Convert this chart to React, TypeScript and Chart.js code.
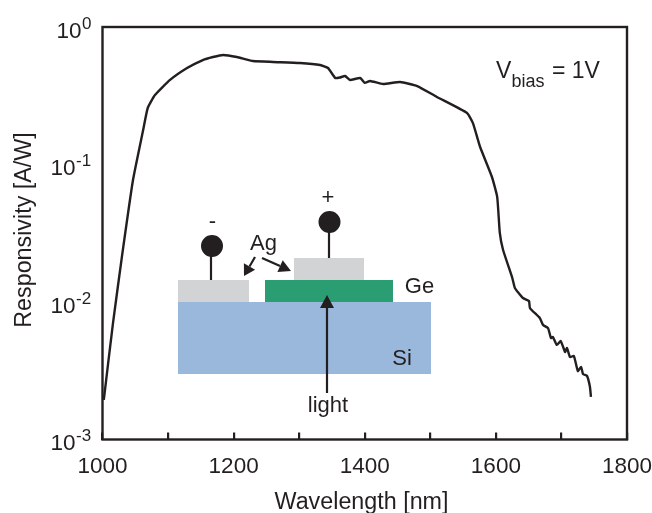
import { useEffect, useRef } from "react";
import { Chart, registerables } from "chart.js";

Chart.register(...registerables);

const FONT = '"Liberation Sans", Arial, sans-serif';
const INK = "#231f20";

const wavelengthNm = [
  1002, 1016, 1030, 1046.5, 1062, 1069, 1080, 1103, 1129, 1153, 1168.5, 1184, 1205, 1229.5, 1260, 1301, 1332,
  1344, 1355, 1362, 1370, 1377.5, 1393, 1400, 1408, 1428, 1454, 1480, 1510, 1556, 1565, 1576, 1594, 1602, 1606,
  1611, 1625, 1629, 1641, 1650.5, 1652, 1667, 1672, 1679.5, 1684, 1687, 1693, 1699, 1705.5, 1708.5, 1713, 1719,
  1725, 1730, 1733, 1739, 1743.5, 1745,
];
const responsivity = [
  0.00194, 0.00703, 0.022, 0.0771, 0.178, 0.2576, 0.32, 0.412, 0.503, 0.575, 0.605, 0.626, 0.605, 0.566, 0.557,
  0.547, 0.529, 0.503, 0.426, 0.429, 0.44, 0.412, 0.426, 0.392, 0.405, 0.385, 0.398, 0.372, 0.31, 0.237, 0.2,
  0.134, 0.0811, 0.0581, 0.0318, 0.0239, 0.015, 0.01265, 0.0107, 0.01017, 0.00904, 0.00765, 0.00681, 0.00647,
  0.00547, 0.00557, 0.00487, 0.0052, 0.00433, 0.00463, 0.00398, 0.00405, 0.00315, 0.00337, 0.00299, 0.0029,
  0.00241, 0.00204,
];
const yTickValues = [1, 0.1, 0.01, 0.001];
const yTickExponents = ["0", "-1", "-2", "-3"];
const yTickTextRight = [82, 76, 76, 76];

function text(ctx: CanvasRenderingContext2D, s: string, x: number, y: number, size: number, align: CanvasTextAlign = "left") {
  ctx.font = `${size}px ${FONT}`;
  ctx.textAlign = align;
  ctx.textBaseline = "alphabetic";
  ctx.fillStyle = INK;
  ctx.fillText(s, x, y);
}

function arrow(ctx: CanvasRenderingContext2D, x1: number, y1: number, x2: number, y2: number, len: number, half: number) {
  const a = Math.atan2(y2 - y1, x2 - x1);
  const bx = x2 - Math.cos(a) * len;
  const by = y2 - Math.sin(a) * len;
  ctx.strokeStyle = INK;
  ctx.lineWidth = 2.2;
  ctx.beginPath();
  ctx.moveTo(x1, y1);
  ctx.lineTo(bx, by);
  ctx.stroke();
  ctx.fillStyle = INK;
  ctx.beginPath();
  ctx.moveTo(x2, y2);
  ctx.lineTo(bx - Math.sin(a) * half, by + Math.cos(a) * half);
  ctx.lineTo(bx + Math.sin(a) * half, by - Math.cos(a) * half);
  ctx.closePath();
  ctx.fill();
}

const figurePlugin = {
  id: "figure",
  beforeDatasetsDraw(chart: any) {
    const ctx: CanvasRenderingContext2D = chart.ctx;
    ctx.save();
    // device sketch
    ctx.fillStyle = "#9ab8dc";
    ctx.fillRect(178, 302, 253, 72);
    ctx.fillStyle = "#d1d3d4";
    ctx.fillRect(178, 280, 71, 22);
    ctx.fillRect(294, 258, 70, 22);
    ctx.fillStyle = "#2a9d72";
    ctx.fillRect(265, 280, 128, 22);
    ctx.strokeStyle = INK;
    ctx.lineWidth = 2.2;
    ctx.beginPath();
    ctx.moveTo(211, 246);
    ctx.lineTo(211, 280);
    ctx.moveTo(329, 222);
    ctx.lineTo(329, 258);
    ctx.stroke();
    ctx.fillStyle = INK;
    ctx.beginPath();
    ctx.arc(212, 246, 11, 0, Math.PI * 2);
    ctx.moveTo(340.5, 222);
    ctx.arc(329.5, 222, 11, 0, Math.PI * 2);
    ctx.fill();
    arrow(ctx, 255, 257, 244, 276, 11, 6.5);
    arrow(ctx, 262, 258, 291, 271, 12, 6.5);
    arrow(ctx, 327, 393, 327, 295, 13, 7);
    text(ctx, "-", 212.5, 228, 22, "center");
    text(ctx, "+", 328, 204, 22, "center");
    text(ctx, "Ag", 263.5, 250, 22, "center");
    text(ctx, "Ge", 419.5, 292.5, 22, "center");
    text(ctx, "Si", 402, 364.5, 22, "center");
    text(ctx, "light", 328, 412, 22, "center");
    ctx.restore();
  },
  afterDraw(chart: any) {
    const ctx: CanvasRenderingContext2D = chart.ctx;
    const { left, right, top, bottom } = chart.chartArea;
    ctx.save();
    ctx.strokeStyle = INK;
    ctx.lineWidth = 2.4;
    ctx.strokeRect(left, top, right - left, bottom - top);
    const yScale = chart.scales.y;
    yTickValues.forEach((v, i) => {
      const py = yScale.getPixelForValue(v);
      const textRight = yTickTextRight[i];
      const base = py + 10.5;
      text(ctx, "10", textRight - 0.5, base, 22.5, "right");
      text(ctx, yTickExponents[i], textRight, base - 9, 17, "left");
    });
    text(ctx, "V", 496, 78, 23);
    text(ctx, "bias", 511.5, 87, 18);
    text(ctx, "= 1V", 552, 78, 23);
    ctx.restore();
  },
};

export default function App() {
  const ref = useRef<HTMLCanvasElement>(null);
  useEffect(() => {
    document.body.style.margin = "0";
    const chart = new Chart(ref.current!, {
      type: "line",
      plugins: [figurePlugin],
      data: {
        datasets: [
          {
            data: wavelengthNm.map((x, i) => ({ x, y: responsivity[i] })),
            borderColor: INK,
            borderWidth: 2.4,
            pointRadius: 0,
            tension: 0.15,
          },
        ],
      },
      options: {
        responsive: false,
        animation: false,
        events: [],
        layout: { padding: { top: 27, right: 25, left: 0, bottom: 0 } },
        plugins: { legend: { display: false }, tooltip: { enabled: false } },
        scales: {
          x: {
            type: "linear",
            min: 1000,
            max: 1800,
            afterFit: (s: any) => {
              s.height = 73.5;
              s.paddingLeft = 0;
              s.paddingRight = 0;
            },
            border: { display: false },
            grid: { drawOnChartArea: false, drawTicks: true, tickLength: -7, color: INK, lineWidth: 2.2 },
            ticks: {
              stepSize: 100,
              autoSkip: false,
              maxRotation: 0,
              padding: 21,
              color: INK,
              font: { family: FONT, size: 22.5 },
              callback: (v: any) => (Number(v) % 200 === 0 ? String(v) : ""),
            },
            title: {
              display: true,
              text: "Wavelength [nm] ",
              color: INK,
              font: { family: FONT, size: 23.3 },
              padding: { top: 0, bottom: -3.5 },
            },
          },
          y: {
            type: "logarithmic",
            min: 0.001,
            max: 1,
            afterFit: (s: any) => {
              s.width = 102.5;
            },
            border: { display: false },
            grid: { display: false },
            ticks: { display: false },
            title: {
              display: true,
              text: " Responsivity [A/W]",
              color: INK,
              font: { family: FONT, size: 23.3 },
              padding: { top: 11, bottom: 0 },
            },
          },
        },
      },
    } as any);
    return () => chart.destroy();
  }, []);
  return <canvas ref={ref} width={652} height={513} style={{ display: "block" }} />;
}
